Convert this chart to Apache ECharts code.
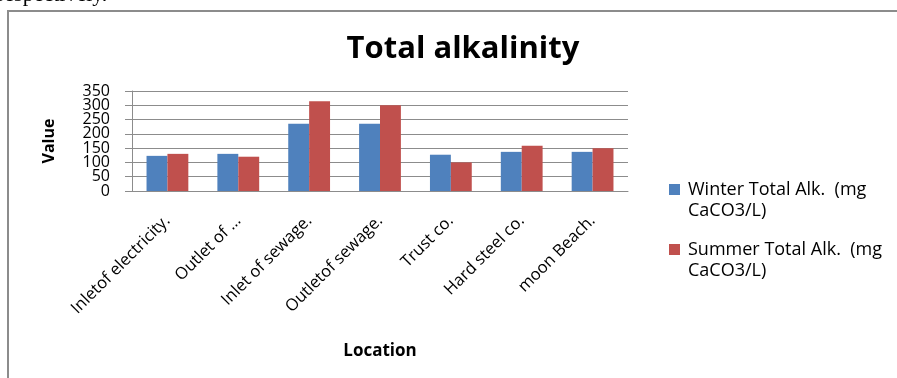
<!DOCTYPE html>
<html>
<head>
<meta charset="utf-8">
<script src="https://cdn.jsdelivr.net/npm/echarts@6/dist/echarts.min.js"></script>
<style>
  html, body { margin: 0; padding: 0; background: #fff; }
  #chart { width: 897px; height: 378px; }
</style>
</head>
<body>
<div id="chart"></div>
<script>
// data
const locations = ["Inletof electricity.", "Outlet of ...", "Inlet of sewage.", "Outletof sewage.", "Trust co.", "Hard steel co.", "moon Beach."];
const winterAlk = [123, 130, 235, 235, 127, 137, 137];
const summerAlk = [130, 120, 314, 300, 100, 158, 150];
const seriesNames = ["Winter Total Alk.  (mg\nCaCO3/L)", "Summer Total Alk.  (mg\nCaCO3/L)"];
const yMin = 0, yMax = 350, yStep = 50;

const chart = echarts.init(document.getElementById("chart"));
const font = "Open Sans";

// legend square sits beside the first text line (box is 11 x 42)
const legendIcon = "path://M0,0h0.01v0.01h-0.01Z M0,5h11v11h-11Z M0,42h0.01v-0.01h-0.01Z";

// the tick labels are packed tighter than their height, so they are split
// over two stacked axes (hundreds / fifties) to keep echarts from hiding any
const labelStyle = { fontSize: 16, color: "#000", margin: 22, showMinLabel: true, showMaxLabel: true };

chart.setOption({
  animation: false,
  textStyle: { fontFamily: font },
  title: {
    text: "Total alkalinity",
    left: 458,
    top: 29,
    textAlign: "center",
    textStyle: { fontSize: 31, fontWeight: "bold", color: "#000", fontFamily: font }
  },
  graphic: [
    {
      type: "polyline",
      shape: { points: [[8, 378], [8, 11], [897, 11]] },
      style: { stroke: "#8c8c8c", lineWidth: 2, fill: null }
    },
    {
      type: "text",
      left: -3,
      top: -16,
      style: { text: "respectively.", font: "22px 'Liberation Serif'", fill: "#000" }
    }
  ],
  legend: {
    orient: "vertical",
    left: 664,
    top: 174,
    itemWidth: 11,
    itemHeight: 42,
    itemGap: 18,
    icon: legendIcon,
    textStyle: { fontSize: 18, color: "#000", lineHeight: 21, fontFamily: font, padding: [0, 0, 0, 3] }
  },
  grid: { left: 132, right: 269, top: 91, bottom: 187, containLabel: false },
  xAxis: {
    type: "category",
    data: locations,
    name: "Location",
    nameLocation: "middle",
    nameGap: 152,
    nameTextStyle: { fontSize: 17, fontWeight: "bold", color: "#000" },
    axisLine: { lineStyle: { color: "#8c8c8c" } },
    axisTick: { show: false },
    axisLabel: { rotate: 45, fontSize: 16.5, color: "#000", margin: 27, interval: 0 }
  },
  yAxis: [
    {
      type: "value",
      position: "left",
      min: yMin,
      max: yMax,
      interval: yStep,
      name: "Value",
      nameLocation: "middle",
      nameGap: 75,
      nameTextStyle: { fontSize: 16, fontWeight: "bold", color: "#000" },
      axisLine: { show: true, lineStyle: { color: "#8c8c8c" } },
      axisTick: { show: true, inside: false, length: 7, lineStyle: { color: "#8c8c8c" } },
      axisLabel: Object.assign({}, labelStyle, {
        formatter: (v) => (v % 100 === 0 ? String(v) : "")
      }),
      splitLine: { lineStyle: { color: "#8c8c8c" } }
    },
    {
      type: "value",
      position: "left",
      offset: 0,
      min: yMin,
      max: yMax,
      interval: yStep,
      axisLine: { show: false },
      axisTick: { show: false },
      splitLine: { show: false },
      axisLabel: Object.assign({}, labelStyle, {
        formatter: (v) => (v % 100 === 50 ? String(v) : "")
      })
    }
  ],
  series: [
    {
      name: seriesNames[0],
      type: "bar",
      yAxisIndex: 0,
      data: winterAlk,
      barGap: "0%",
      barCategoryGap: "41%",
      itemStyle: { color: "#4f81bd" }
    },
    {
      name: seriesNames[1],
      type: "bar",
      yAxisIndex: 0,
      data: summerAlk,
      itemStyle: { color: "#c0504d" }
    }
  ]
});
</script>
</body>
</html>
